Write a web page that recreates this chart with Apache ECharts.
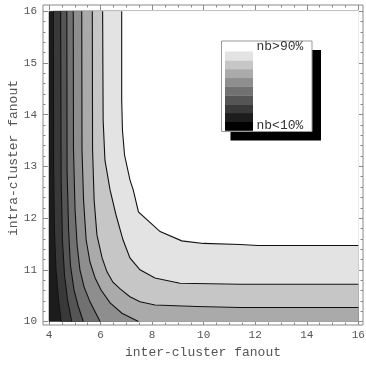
<!DOCTYPE html>
<html><head><meta charset="utf-8">
<script src="https://cdn.jsdelivr.net/npm/echarts@6/dist/echarts.min.js"></script>
<style>html,body{margin:0;padding:0;background:#fff}#c{width:366px;height:365px}</style>
</head><body><div id="c"></div>
<script>
// ---- data ----
const xTitle = 'inter-cluster fanout';
const yTitle = 'intra-cluster fanout';
const xTicks = [4, 6, 8, 10, 12, 14, 16];
const yTicks = [10, 11, 12, 13, 14, 15, 16];
const xDomain = [4, 16];
const yDomain = [10, 16];
const legendHigh = 'nb>90%';
const legendLow = 'nb<10%';
// gray levels from lowest (nb<10%) to highest (nb>90%)
const shades = ['#000000', '#1c1c1c', '#393939', '#555555', '#717171', '#8e8e8e', '#aaaaaa', '#c6c6c6', '#e3e3e3', '#ffffff'];
// contour lines (x, y), each separating a darker band (left/below) from a lighter band
const line20 = [[4.17, 16], [4.18, 12.93], [4.21, 11.77], [4.27, 11.0], [4.37, 10.42], [4.47, 10]];
const line30 = [[4.45, 16], [4.47, 12.74], [4.52, 11.58], [4.60, 10.9], [4.72, 10.42], [4.88, 10]];
const line40 = [[4.69, 16], [4.70, 12.93], [4.76, 11.77], [4.83, 11.09], [4.97, 10.61], [5.13, 10.30], [5.33, 10]];
const line50 = [[4.94, 16], [4.95, 13.32], [5.01, 12.16], [5.09, 11.48], [5.20, 11.0], [5.36, 10.67], [5.59, 10.38], [5.98, 10]];
const line60 = [[5.27, 16], [5.28, 13.32], [5.34, 12.35], [5.44, 11.58], [5.59, 11.15], [5.79, 10.84], [6.02, 10.61], [6.37, 10.36], [6.83, 10.16], [7.47, 10]];
const line70 = [[5.68, 16], [5.69, 13.32], [5.75, 12.35], [5.86, 11.67], [6.06, 11.23], [6.25, 10.96], [6.48, 10.76], [6.76, 10.63], [7.14, 10.48], [7.53, 10.38], [8.11, 10.32], [9.74, 10.29], [11.41, 10.27], [16, 10.27]];
const line80 = [[6.08, 16], [6.10, 13.9], [6.17, 13.12], [6.37, 12.54], [6.60, 12.06], [6.87, 11.58], [7.14, 11.23], [7.53, 11.0], [8.11, 10.84], [9.08, 10.74], [11.41, 10.72], [16, 10.72]];
const line90 = [[6.82, 16], [6.82, 14.28], [6.85, 13.7], [6.93, 13.22], [7.14, 12.74], [7.27, 12.54], [7.47, 12.12], [8.31, 11.74], [9.15, 11.56], [9.99, 11.51], [11.41, 11.49], [12.11, 11.47], [16, 11.47]];
const contourLines = [line20, line30, line40, line50, line60, line70, line80, line90];

// ---- layout ----
const xMin = 3.767, xMax = 16.182, yMin = 9.932, yMax = 16.122;
const FONT = 'Liberation Mono';
const frameColor = '#8a8a8a';
const textColor = '#555';

function minorTicks(domain, step, majors) {
  const out = [];
  for (let v = domain[0]; v <= domain[1] + 1e-9; v += step) {
    const r = Math.round(v * 100) / 100;
    if (!majors.some(m => Math.abs(m - r) < 1e-6)) out.push(r);
  }
  return out;
}
const xMinor = minorTicks(xDomain, 0.5, xTicks);
const yMinor = minorTicks(yDomain, 0.2, yTicks);

function axis(dimPos, ticks, len, labels, extra) {
  const isX = dimPos === 'bottom' || dimPos === 'top';
  return Object.assign({
    type: 'value', gridIndex: 0, position: dimPos,
    min: isX ? xMin : yMin, max: isX ? xMax : yMax,
    axisLine: { show: false },
    splitLine: { show: false },
    axisTick: { show: true, inside: true, length: len, customValues: ticks, lineStyle: { color: frameColor, width: 1 } },
    axisLabel: labels ? { show: true, customValues: ticks, color: textColor, fontFamily: FONT, fontSize: 11, margin: isX ? 5 : 6 } : { show: false }
  }, extra || {});
}

const chart = echarts.init(document.getElementById('c'), null, { renderer: 'canvas' });

const legendX = 221.5, legendY = 41, legendW = 90.5, legendH = 90.5;
const swatchX = 225, swatchW = 28, swatchBottom = 130.5, swatchH = 8.78;
const legendGraphics = [
  { type: 'rect', shape: { x: legendX + 9, y: legendY + 9, width: legendW, height: legendH }, style: { fill: '#000' }, z: 10 },
  { type: 'rect', shape: { x: legendX, y: legendY, width: legendW, height: legendH }, style: { fill: '#fff', stroke: '#999', lineWidth: 1 }, z: 11 }
];
for (let i = 0; i < shades.length - 1; i++) {
  legendGraphics.push({ type: 'rect', shape: { x: swatchX, y: swatchBottom - swatchH * (i + 1), width: swatchW, height: swatchH + 0.3 }, style: { fill: shades[i] }, z: 12 });
}
legendGraphics.push({ type: 'text', x: 256.5, y: 47, style: { text: legendHigh, font: '13px "Liberation Mono"', fill: '#333', textVerticalAlign: 'middle', textAlign: 'left' }, z: 13 });
legendGraphics.push({ type: 'text', x: 256.5, y: 125.5, style: { text: legendLow, font: '13px "Liberation Mono"', fill: '#333', textVerticalAlign: 'middle', textAlign: 'left' }, z: 13 });
legendGraphics.push({ type: 'text', x: 14, y: 158, rotation: Math.PI / 2, style: { text: yTitle, font: '13px "Liberation Mono"', fill: textColor, textVerticalAlign: 'middle', textAlign: 'center' }, z: 13 });

const cellData = contourLines.map((l, i) => [xDomain[0], yDomain[0], i]);
cellData.unshift([xDomain[0], yDomain[0], -1]);

chart.setOption({
  backgroundColor: '#fff',
  animation: false,
  grid: { left: 43, right: 3, top: 5, bottom: 40, show: true, borderColor: frameColor, borderWidth: 1, backgroundColor: 'transparent', outerBoundsMode: 'none', containLabel: false },
  xAxis: [
    axis('bottom', xTicks, 5, true, { name: xTitle, nameLocation: 'middle', nameGap: 20, nameTextStyle: { color: textColor, fontFamily: FONT, fontSize: 13 } }),
    axis('bottom', xMinor, 2.5, false),
    axis('top', xTicks, 5, false),
    axis('top', xMinor, 2.5, false)
  ],
  yAxis: [
    axis('left', yTicks, 5, true),
    axis('left', yMinor, 2.5, false),
    axis('right', yTicks, 5, false),
    axis('right', yMinor, 2.5, false)
  ],
  graphic: legendGraphics,
  series: [
    {
      type: 'custom', xAxisIndex: 0, yAxisIndex: 0, silent: true, z: 2,
      data: cellData,
      renderItem: function (params, api) {
        const k = api.value(2);
        let pts;
        if (k < 0) {
          pts = [[xDomain[0], yDomain[0]], [xDomain[1], yDomain[0]], [xDomain[1], yDomain[1]], [xDomain[0], yDomain[1]]];
        } else {
          const L = contourLines[k];
          pts = L.slice();
          const last = L[L.length - 1];
          if (Math.abs(last[1] - yDomain[0]) < 1e-9) pts.push([xDomain[1], yDomain[0]]);
          pts.push([xDomain[1], yDomain[1]]);
        }
        return { type: 'polygon', shape: { points: pts.map(p => api.coord(p)) }, style: { fill: shades[k + 2], stroke: shades[k + 2], lineWidth: 0.5 } };
      }
    },
    {
      type: 'custom', xAxisIndex: 0, yAxisIndex: 0, silent: true, z: 3,
      data: contourLines.map((l, i) => [xDomain[0], yDomain[0], i]),
      renderItem: function (params, api) {
        const L = contourLines[api.value(2)];
        return { type: 'polyline', shape: { points: L.map(p => api.coord(p)) }, style: { fill: null, stroke: '#111', lineWidth: 1.1 } };
      }
    }
  ]
});
</script></body></html>
